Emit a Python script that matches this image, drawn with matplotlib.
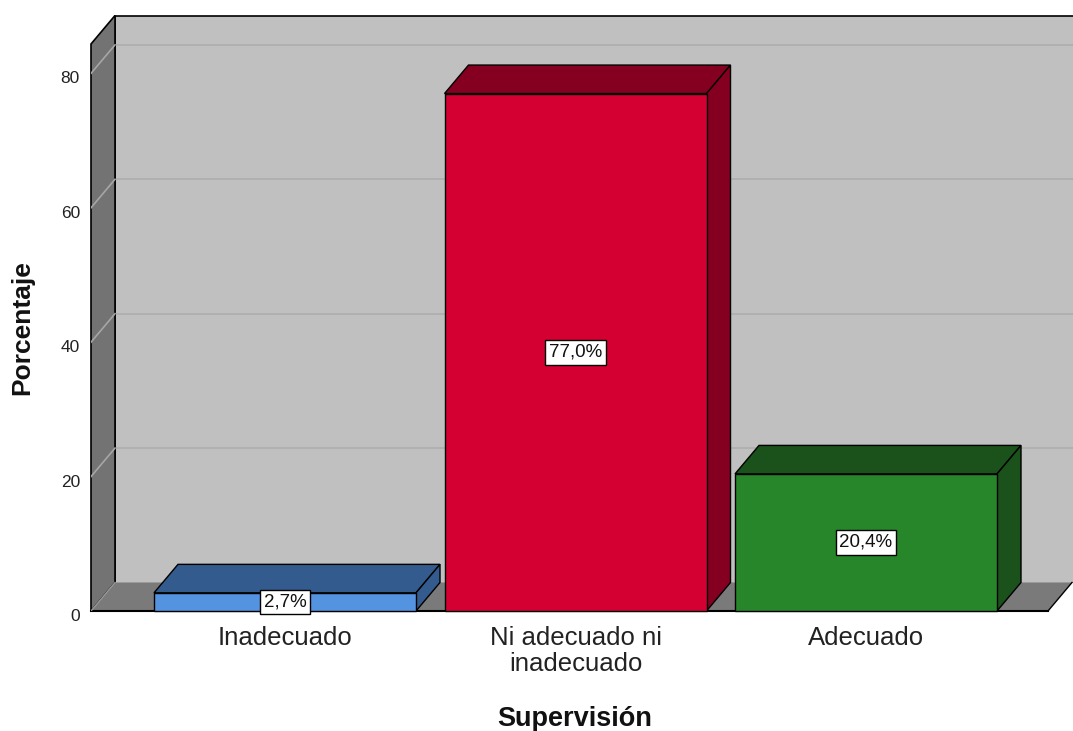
import matplotlib.pyplot as plt
from matplotlib.patches import Polygon
from matplotlib.transforms import ScaledTranslation

plt.rcParams['font.family'] = ['Liberation Sans', 'DejaVu Sans']

categories = ["Inadecuado", "Ni adecuado ni\ninadecuado", "Adecuado"]
values = [2.7, 77.0, 20.4]
front_colors = ["#5393e0", "#d50032", "#27862a"]
dark_colors = ["#335b8e", "#850020", "#1b511b"]
yticks = [0, 20, 40, 60, 80]

W, H = 1073, 731
px_per_cat = 290.5
px_per_unit = 6.72
x0 = -194 / px_per_cat            # left (front) edge of the chart box
x1 = x0 + 982 / px_per_cat        # right edge of the image
ytop = 595 / px_per_unit
ddx = 24 / px_per_cat             # depth offset
ddy = 28.5 / px_per_unit
wall_top = 567 / px_per_unit
floor_right = x0 + 957 / px_per_cat
bar_w = 262 / px_per_cat

fig = plt.figure(figsize=(W / 100, H / 100), dpi=100)
ax = fig.add_axes([91 / W, (H - 611) / H, 982 / W, 595 / H])
ax.set_xlim(x0, x1)
ax.set_ylim(0, ytop)
for s in ax.spines.values():
    s.set_visible(False)

def poly(pts, fc, ec="black", lw=1.0, z=1):
    ax.add_patch(Polygon(pts, closed=True, facecolor=fc, edgecolor=ec,
                         linewidth=lw, zorder=z, clip_on=False))

# back wall and left wall
poly([(x0 + ddx, ddy), (x1 + 0.01, ddy), (x1 + 0.01, wall_top + ddy), (x0 + ddx, wall_top + ddy)],
     "#c0c0c0", ec="none", z=1)
ax.plot([x0 + ddx, x1], [wall_top + ddy] * 2, color="black", lw=1.2, zorder=2, clip_on=False)
ax.plot([x0 + ddx, x0 + ddx], [ddy, wall_top + ddy], color="black", lw=1.2, zorder=2)
poly([(x0, 0), (x0, wall_top), (x0 + ddx, wall_top + ddy), (x0 + ddx, ddy)],
     "#737373", ec="black", lw=1.2, z=2)

# gridlines
for v in yticks[1:]:
    ax.plot([x0 + ddx, x1], [v + ddy] * 2, color="#adadad", lw=1.2, zorder=1.5)
    ax.plot([x0, x0 + ddx], [v, v + ddy], color="#a6a6a6", lw=1.2, zorder=2.5)

# floor
poly([(x0, 0), (floor_right, 0), (floor_right + ddx, ddy), (x0 + ddx, ddy)],
     "#7a7a7a", ec="none", z=3)
ax.plot([x0, floor_right], [0, 0], color="black", lw=1.5, zorder=3.5, clip_on=False)
ax.plot([floor_right, floor_right + ddx], [0, ddy], color="black", lw=1.0, zorder=3.5)
ax.plot([x0, x0 + ddx], [0, ddy], color="#999999", lw=1.0, zorder=3.5)

# bars
for i, (v, fc, dc) in enumerate(zip(values, front_colors, dark_colors)):
    l, r = i - bar_w / 2, i + bar_w / 2
    poly([(l, v), (r, v), (r + ddx, v + ddy), (l + ddx, v + ddy)], dc, z=4)
    poly([(r, 0), (r + ddx, ddy), (r + ddx, v + ddy), (r, v)], dc, z=4)
    poly([(l, 0), (r, 0), (r, v), (l, v)], fc, z=5)
    lab = f"{v:.1f}".replace(".", ",") + "%"
    ax.text(i, v / 2, lab, ha="center", va="center", fontsize=13.5, color="#111111", zorder=6,
            bbox=dict(boxstyle="square,pad=0.2", facecolor="white", edgecolor="black", linewidth=1.0))

ax.set_yticks(yticks)
ax.set_yticklabels([str(t) for t in yticks], fontsize=12.5, color="#222222")
ax.set_xticks(range(len(categories)))
ax.set_xticklabels(categories, fontsize=18.5, color="#222222", linespacing=1.1)
ax.tick_params(axis="both", length=0)
ax.tick_params(axis="y", pad=8)
ax.tick_params(axis="x", pad=11)
shift = ScaledTranslation(0, -4 / 100, fig.dpi_scale_trans)
for t in ax.yaxis.get_major_ticks():
    t.label1.set_transform(t.label1.get_transform() + shift)

fig.text(22 / W, 1 - 328 / H, "Porcentaje", rotation=90, ha="center", va="center",
         fontsize=19, fontweight="bold", color="#111111")
fig.text(575 / W, 1 - 719 / H, "Supervisión", ha="center", va="center",
         fontsize=19.5, fontweight="bold", color="#111111")

fig.savefig("out.png", dpi=100)
